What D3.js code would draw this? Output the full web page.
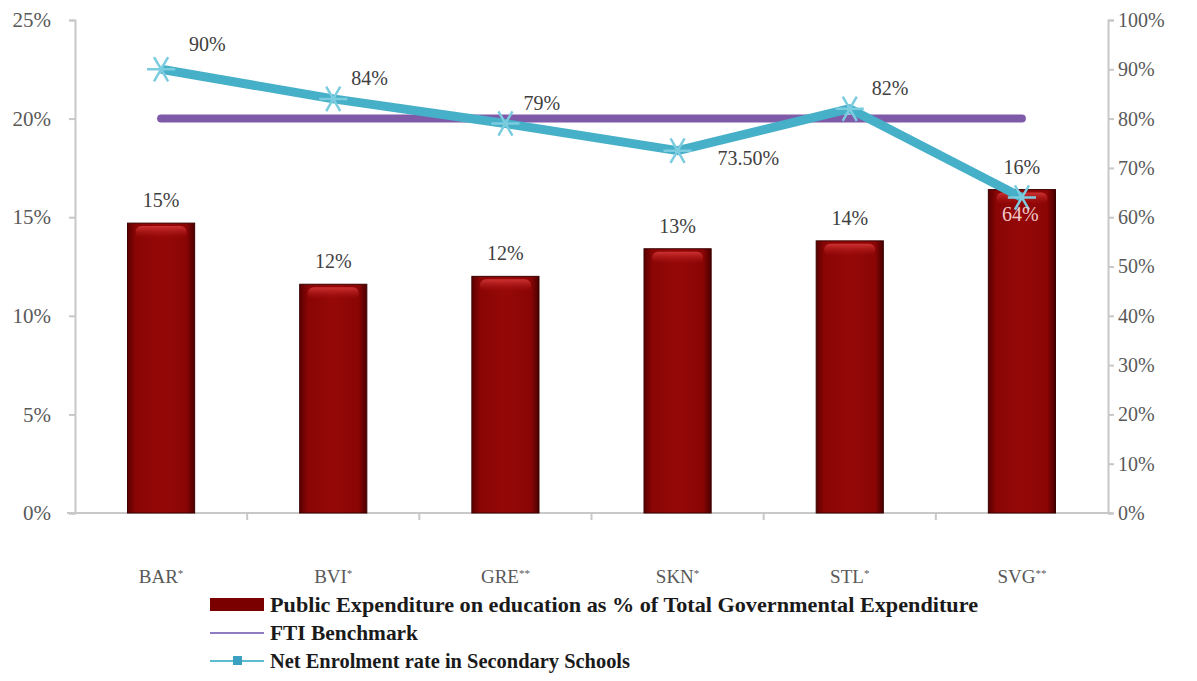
<!DOCTYPE html>
<html>
<head>
<meta charset="utf-8">
<script src="https://cdn.jsdelivr.net/npm/d3@7"></script>
<style>
  body { margin: 0; background: #fff; }
</style>
</head>
<body>
<script>
// categories en waardes
var countries = ["BAR*", "BVI*", "GRE**", "SKN*", "STL*", "SVG**"];
var expenditure = [14.7, 11.6, 12.0, 13.4, 13.8, 16.4];
var expenditureLabels = ["15%", "12%", "12%", "13%", "14%", "16%"];
var enrolment = [90, 84, 79, 73.5, 82, 64];
var enrolmentLabels = ["90%", "84%", "79%", "73.50%", "82%", "64%"];
var benchmark = [80, 80, 80, 80, 80, 80];
var leftTicks = [0, 5, 10, 15, 20, 25];
var rightTicks = [0, 10, 20, 30, 40, 50, 60, 70, 80, 90, 100];
var legendLabels = ["Public Expenditure on education as % of Total Governmental Expenditure",
                    "FTI Benchmark",
                    "Net Enrolment rate in Secondary Schools"];

var width = 1197, height = 681;
var margin = {left:75, right:89, top:20, bottom:168};
var w = width - margin.left - margin.right;
var h = height - margin.top - margin.bottom;
var serif = "Liberation Serif";

var svg = d3.select("body").append("svg").attr("width", width).attr("height", height)
  .attr("font-family", serif);

// verloop voor de balken
var defs = svg.append("defs");
var grad = defs.append("linearGradient").attr("id","barGrad").attr("x1",0).attr("x2",1).attr("y1",0).attr("y2",0);
grad.append("stop").attr("offset","0%").attr("stop-color","#5a0000");
grad.append("stop").attr("offset","12%").attr("stop-color","#8a0505");
grad.append("stop").attr("offset","50%").attr("stop-color","#960808");
grad.append("stop").attr("offset","88%").attr("stop-color","#8a0505");
grad.append("stop").attr("offset","100%").attr("stop-color","#4a0000");
var hi = defs.append("linearGradient").attr("id","hiGrad").attr("x1",0).attr("x2",0).attr("y1",0).attr("y2",1);
hi.append("stop").attr("offset","0%").attr("stop-color","#d83a3a").attr("stop-opacity",0.85);
hi.append("stop").attr("offset","100%").attr("stop-color","#b01515").attr("stop-opacity",0);

var g = svg.append("g").attr("transform","translate("+margin.left+","+margin.top+")");

var x = d3.scaleBand().domain(countries).range([0, w]).paddingInner(0.61).paddingOuter(0.305);
var xb = d3.scaleBand().domain(countries).range([0, w]);
var yL = d3.scaleLinear().domain([0,25]).range([h,0]);
var yR = d3.scaleLinear().domain([0,100]).range([h,0]);

var gray = "#595959";

// linker as
var yAxisL = d3.axisLeft(yL).tickValues(leftTicks).tickFormat(function(d){ return d+"%"; }).tickSize(6).tickPadding(18);
var gl = g.append("g").call(yAxisL).attr("font-family", serif);
gl.select(".domain").attr("stroke","#c8c8c8").attr("stroke-width",2);
gl.selectAll(".tick line").attr("stroke","#c8c8c8").attr("stroke-width",2);
gl.selectAll(".tick text").attr("fill",gray).style("font-size","21px");

// rechter as
var yAxisR = d3.axisRight(yR).tickValues(rightTicks).tickFormat(function(d){ return d+"%"; }).tickSize(6).tickPadding(4);
var gr = g.append("g").attr("transform","translate("+w+",0)").call(yAxisR).attr("font-family", serif);
gr.select(".domain").attr("stroke","#c8c8c8").attr("stroke-width",2);
gr.selectAll(".tick line").attr("stroke","#c8c8c8").attr("stroke-width",2);
gr.selectAll(".tick text").attr("fill",gray).style("font-size","20px");

// x as met streepjes tussen de categorieen
g.append("line").attr("x1",-8).attr("x2",w+4).attr("y1",h).attr("y2",h)
  .attr("stroke","#c8c8c8").attr("stroke-width",2);
g.selectAll(".xtick").data(countries.slice(1)).enter().append("line")
  .attr("x1", function(d){ return xb(d); }).attr("x2", function(d){ return xb(d); })
  .attr("y1", h).attr("y2", h+7).attr("stroke","#c8c8c8").attr("stroke-width",2);
var xl = g.selectAll(".xlab").data(countries).enter().append("text")
  .attr("x", function(d){ return xb(d)+xb.bandwidth()/2; })
  .attr("y", h+70).attr("text-anchor","middle").attr("fill",gray)
  .style("font-size","19px");
xl.append("tspan").text(function(d){ return d.replace(/\*/g,""); });
xl.append("tspan").attr("dy",-6).style("font-size","11px").text(function(d){ return d.replace(/[^*]/g,""); });

// balken
var bars = g.selectAll(".bar").data(expenditure).enter().append("g");
bars.append("rect")
  .attr("x", function(d,i){ return x(countries[i]); })
  .attr("y", function(d){ return yL(d); })
  .attr("width", x.bandwidth())
  .attr("height", function(d){ return h - yL(d); })
  .attr("fill","url(#barGrad)").attr("stroke","#3a0000").attr("stroke-width",1);
bars.append("rect")
  .attr("x", function(d,i){ return x(countries[i])+8; })
  .attr("y", function(d){ return yL(d)+3; })
  .attr("width", x.bandwidth()-16)
  .attr("height", 12).attr("rx",6)
  .attr("fill","url(#hiGrad)");
g.selectAll(".barlab").data(expenditureLabels).enter().append("text")
  .attr("x", function(d,i){ return x(countries[i])+x.bandwidth()/2; })
  .attr("y", function(d,i){ return yL(expenditure[i]) - 16; })
  .attr("text-anchor","middle").attr("fill","#404040").style("font-size","20px")
  .text(function(d){ return d; });

// benchmark lijn
var line = d3.line()
  .x(function(d,i){ return xb(countries[i])+xb.bandwidth()/2; })
  .y(function(d){ return yR(d); });
g.append("path").attr("d", line(benchmark)).attr("fill","none")
  .attr("stroke","#7f5aa8").attr("stroke-width",8).attr("stroke-linecap","round");

// inschrijving lijn
g.append("path").attr("d", line(enrolment)).attr("fill","none")
  .attr("stroke","#46b0c8").attr("stroke-width",9).attr("stroke-linejoin","round");

// sterretjes markers
var star = d3.symbol().type(d3.symbolAsterisk).size(560);
g.selectAll(".mark").data(enrolment).enter().append("path")
  .attr("transform", function(d,i){ return "translate("+(xb(countries[i])+xb.bandwidth()/2)+","+yR(d)+") rotate(30)"; })
  .attr("d", star).attr("fill","none").attr("stroke","#7ccce0").attr("stroke-width",2.5);

var labOff = [[28,-18],[18,-14],[18,-14],[40,14],[22,-14],[-20,24]];
g.selectAll(".linelab").data(enrolmentLabels).enter().append("text")
  .attr("x", function(d,i){ return xb(countries[i])+xb.bandwidth()/2 + labOff[i][0]; })
  .attr("y", function(d,i){ return yR(enrolment[i]) + labOff[i][1]; })
  .attr("fill", function(d,i){ return i==5 ? "#f0c8c8" : "#404040"; })
  .style("font-size","20px")
  .text(function(d){ return d; });

// legenda
var lg = svg.append("g").attr("transform","translate(210,605)");
lg.append("rect").attr("x",0).attr("y",-7).attr("width",54).attr("height",13).attr("fill","#7a0000");
lg.append("line").attr("x1",0).attr("x2",54).attr("y1",28).attr("y2",28).attr("stroke","#8e7cc3").attr("stroke-width",2);
lg.append("line").attr("x1",0).attr("x2",54).attr("y1",56).attr("y2",56).attr("stroke","#5bbccf").attr("stroke-width",2);
lg.append("rect").attr("x",23).attr("y",51).attr("width",9).attr("height",9).attr("fill","#3ca0c0");
var lens = [708, 148, 360];
lg.selectAll(".ltxt").data(legendLabels).enter().append("text")
  .attr("x", 60).attr("y", function(d,i){ return i*28 + 7; })
  .attr("fill","#1a1a1a").style("font-size","21px").style("font-weight","bold")
  .attr("textLength", function(d,i){ return lens[i]; }).attr("lengthAdjust","spacingAndGlyphs")
  .text(function(d){ return d; });
</script>
</body>
</html>
